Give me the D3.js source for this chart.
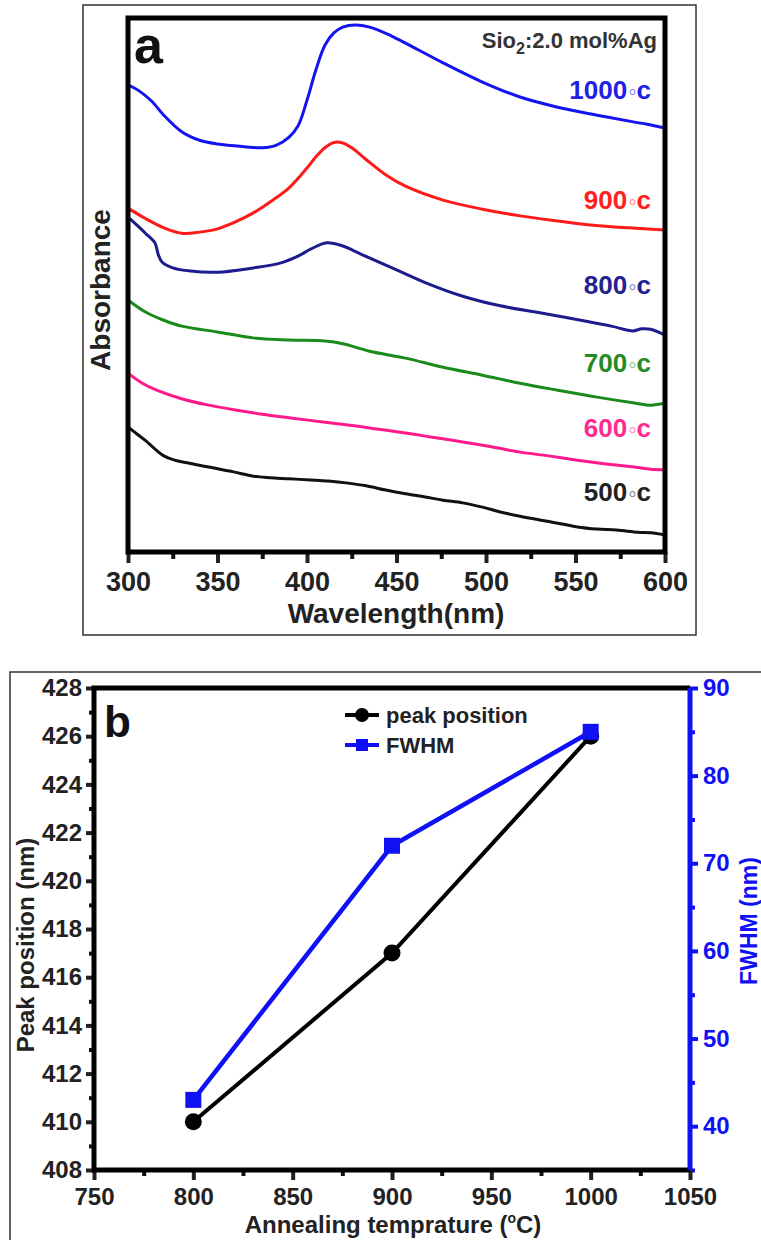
<!DOCTYPE html>
<html>
<head>
<meta charset="utf-8">
<script src="https://cdn.jsdelivr.net/npm/d3@7"></script>
<style>
body { margin: 0; background: #fff; }
svg { display: block; font-family: "Liberation Sans", Arial, sans-serif; font-weight: bold; }
</style>
</head>
<body>
<script>
// ---- panel a : absorbance spectra, pairs of [wavelength (nm), absorbance (a.u.)]
var abs1000 = [[300,0.875],[306,0.864],[313,0.845],[320,0.818],[330,0.787],[340,0.771],[350,0.764],[365,0.759],
  [375,0.757],[383,0.762],[390,0.777],[395,0.798],[400,0.846],[405,0.903],[410,0.949],[415,0.972],[420,0.983],
  [427,0.987],[435,0.983],[445,0.970],[455,0.953],[476,0.916],[498,0.880],[519,0.852],[540,0.833],[562,0.818],
  [583,0.805],[590,0.801],[600,0.794]];
var abs900 = [[300,0.644],[310,0.624],[320,0.607],[330,0.597],[340,0.599],[350,0.605],[360,0.618],[370,0.635],
  [380,0.657],[390,0.682],[400,0.719],[405,0.740],[410,0.757],[415,0.767],[420,0.766],[425,0.757],[433,0.735],
  [445,0.704],[455,0.685],[476,0.659],[498,0.642],[520,0.629],[540,0.620],[560,0.612],[580,0.607],[600,0.603]];
var abs800 = [[300,0.627],[305,0.612],[310,0.596],[315,0.579],[317,0.556],[319,0.543],[325,0.532],[335,0.526],
  [350,0.524],[370,0.532],[385,0.541],[395,0.554],[402,0.567],[411,0.579],[420,0.573],[430,0.558],[445,0.536],
  [465,0.506],[487,0.479],[508,0.461],[530,0.448],[550,0.436],[570,0.423],[582,0.414],[587,0.418],[592,0.417],
  [600,0.406]];
var abs700 = [[300,0.472],[310,0.449],[320,0.434],[330,0.423],[350,0.412],[370,0.401],[390,0.397],[410,0.395],
  [420,0.390],[435,0.376],[455,0.363],[476,0.346],[498,0.331],[519,0.316],[540,0.303],[562,0.290],[583,0.279],
  [592,0.275],[600,0.279]];
var abs600 = [[300,0.335],[308,0.316],[316,0.303],[329,0.288],[345,0.275],[360,0.266],[375,0.258],[391,0.251],
  [410,0.243],[423,0.238],[440,0.230],[455,0.223],[470,0.215],[487,0.206],[503,0.197],[519,0.187],[535,0.180],
  [551,0.172],[567,0.165],[583,0.159],[592,0.155],[600,0.154]];
var abs500 = [[300,0.234],[305,0.221],[310,0.208],[315,0.193],[320,0.180],[326,0.172],[333,0.167],[345,0.159],
  [359,0.150],[370,0.142],[380,0.139],[390,0.137],[402,0.135],[412,0.133],[423,0.129],[433,0.124],[444,0.116],
  [455,0.109],[466,0.103],[476,0.097],[487,0.092],[498,0.084],[508,0.075],[519,0.067],[530,0.060],[540,0.054],
  [551,0.047],[562,0.043],[573,0.041],[585,0.037],[592,0.036],[600,0.032]];
var tempNames = ['1000', '900', '800', '700', '600', '500'];
var wavelengthTicks = [300, 350, 400, 450, 500, 550, 600];

// ---- panel b : peak position and FWHM vs annealing temperature
var annealTemps = [800, 900, 1000];
var peakPosition = [410, 417, 426];
var fwhm = [43, 72, 85];
var tempTicks = [750, 800, 850, 900, 950, 1000, 1050];
var peakTicks = [408, 410, 412, 414, 416, 418, 420, 422, 424, 426, 428];
var fwhmTicks = [40, 50, 60, 70, 80, 90];

var seriesA = [abs1000, abs900, abs800, abs700, abs600, abs500];
var colorsA = ['#1414f0', '#ff1a1a', '#1c1c8e', '#1a8a1a', '#ff1a8c', '#111111'];
var labelColorsA = ['#2020e6', '#ff2020', '#222290', '#238b23', '#ff2a90', '#222222'];
var labelY = [99, 209, 294, 372, 437, 501];

var svg = d3.select('body').append('svg')
  .attr('width', 761)
  .attr('height', 1240);

// outer frames
svg.append('rect').attr('x', 83).attr('y', 5).attr('width', 613).attr('height', 630)
  .attr('fill', 'none').attr('stroke', '#333').attr('stroke-width', 1.5);
svg.append('rect').attr('x', 10).attr('y', 672).attr('width', 770).attr('height', 600)
  .attr('fill', 'none').attr('stroke', '#333').attr('stroke-width', 1.5);

// ================= panel a =================
var xA = d3.scaleLinear().domain([300, 600]).range([128, 665]);
var yA = d3.scaleLinear().domain([0, 1]).range([552, 18]);

function styleAxis(g, size, color) {
  g.attr('font-family', null).attr('font-size', null);
  g.select('.domain').remove();
  g.selectAll('.tick line').attr('stroke', color).attr('stroke-width', 4);
  g.selectAll('.tick text').attr('fill', color).style('font-size', size + 'px');
}

svg.append('g')
  .attr('transform', 'translate(0,552)')
  .call(d3.axisBottom(xA).tickValues(d3.range(325, 600, 50)).tickSize(7).tickFormat(''))
  .call(styleAxis, 27, '#111');
svg.append('g')
  .attr('transform', 'translate(0,552)')
  .call(d3.axisBottom(xA).tickValues(wavelengthTicks).tickSize(11).tickPadding(9).tickFormat(d3.format('d')))
  .call(styleAxis, 27, '#222');

var lineA = d3.line()
  .x(function (d) { return xA(d[0]); })
  .y(function (d) { return yA(d[1]); })
  .curve(d3.curveCatmullRom.alpha(0.5));

svg.selectAll('.spectrum')
  .data(seriesA)
  .enter().append('path')
  .attr('class', 'spectrum')
  .attr('d', lineA)
  .attr('fill', 'none')
  .attr('stroke', function (d, i) { return colorsA[i]; })
  .attr('stroke-width', 3);

svg.append('rect').attr('x', xA(300)).attr('y', yA(1))
  .attr('width', xA(600) - xA(300)).attr('height', yA(0) - yA(1))
  .attr('fill', 'none').attr('stroke', '#000').attr('stroke-width', 5);

// temperature labels
var tl = svg.selectAll('.tlabel')
  .data(tempNames)
  .enter().append('text')
  .attr('class', 'tlabel')
  .attr('x', 651)
  .attr('y', function (d, i) { return labelY[i]; })
  .attr('text-anchor', 'end')
  .style('font-size', '26px')
  .attr('fill', function (d, i) { return labelColorsA[i]; });
tl.append('tspan').text(function (d) { return d; });
tl.append('tspan').text('\u00B0')
  .style('font-weight', 'normal').style('font-size', '21px')
  .attr('fill-opacity', 0.55).attr('dx', 1).attr('dy', 5);
tl.append('tspan').text('c').attr('dy', -5);

svg.append('text').attr('x', 134).attr('y', 63).style('font-size', '52px').attr('fill', '#111').text('a');

var comp = svg.append('text').attr('x', 657).attr('y', 48).attr('text-anchor', 'end')
  .style('font-size', '22px').attr('fill', '#333');
comp.append('tspan').text('Sio');
comp.append('tspan').text('2').style('font-size', '16px').attr('dy', 6);
comp.append('tspan').text(':2.0 mol%Ag').attr('dy', -6);

svg.append('text').attr('x', 396).attr('y', 623).attr('text-anchor', 'middle')
  .style('font-size', '28px').attr('fill', '#222').text('Wavelength(nm)');
svg.append('text').attr('transform', 'translate(110,290) rotate(-90)').attr('text-anchor', 'middle')
  .style('font-size', '28px').attr('fill', '#222').text('Absorbance');

// ================= panel b =================
var xB = d3.scaleLinear().domain([750, 1050]).range([94, 690]);
var yB = d3.scaleLinear().domain([408, 428]).range([1170, 688]);
var yB2 = d3.scaleLinear().domain([35, 90]).range([1170, 688]);
var blue = '#1010f5';

// minor ticks
svg.append('g').attr('transform', 'translate(0,1170)')
  .call(d3.axisBottom(xB).tickValues(d3.range(775, 1050, 50)).tickSize(6).tickFormat(''))
  .call(styleAxis, 24, '#111');
svg.append('g').attr('transform', 'translate(94,0)')
  .call(d3.axisLeft(yB).tickValues(d3.range(409, 428, 2)).tickSize(5).tickFormat(''))
  .call(styleAxis, 24, '#111');
svg.append('g').attr('transform', 'translate(690,0)')
  .call(d3.axisRight(yB2).tickValues(d3.range(35, 90, 10)).tickSize(5).tickFormat(''))
  .call(styleAxis, 24, blue);

// major ticks
svg.append('g').attr('transform', 'translate(0,1170)')
  .call(d3.axisBottom(xB).tickValues(tempTicks).tickSize(10).tickPadding(8).tickFormat(d3.format('d')))
  .call(styleAxis, 24, '#222');
svg.append('g').attr('transform', 'translate(94,0)')
  .call(d3.axisLeft(yB).tickValues(peakTicks).tickSize(8).tickPadding(4).tickFormat(d3.format('d')))
  .call(styleAxis, 24, '#222');
svg.append('g').attr('transform', 'translate(690,0)')
  .call(d3.axisRight(yB2).tickValues(fwhmTicks).tickSize(8).tickPadding(5).tickFormat(d3.format('d')))
  .call(styleAxis, 24, blue);

// axis lines
svg.append('path')
  .attr('d', 'M' + xB(1050) + ',' + yB(428) + 'H' + xB(750) + 'V' + yB(408) + 'H' + xB(1050))
  .attr('fill', 'none').attr('stroke', '#000').attr('stroke-width', 5);
svg.append('line')
  .attr('x1', xB(1050)).attr('x2', xB(1050)).attr('y1', yB2(90)).attr('y2', yB2(35))
  .attr('stroke', blue).attr('stroke-width', 5);

var peakData = annealTemps.map(function (t, i) { return [t, peakPosition[i]]; });
var fwhmData = annealTemps.map(function (t, i) { return [t, fwhm[i]]; });

svg.append('path').datum(peakData)
  .attr('d', d3.line().x(function (d) { return xB(d[0]); }).y(function (d) { return yB(d[1]); }))
  .attr('fill', 'none').attr('stroke', '#000').attr('stroke-width', 4);
svg.selectAll('.pk').data(peakData).enter().append('circle')
  .attr('class', 'pk')
  .attr('cx', function (d) { return xB(d[0]); })
  .attr('cy', function (d) { return yB(d[1]); })
  .attr('r', 8.5).attr('fill', '#000');

svg.append('path').datum(fwhmData)
  .attr('d', d3.line().x(function (d) { return xB(d[0]); }).y(function (d) { return yB2(d[1]); }))
  .attr('fill', 'none').attr('stroke', blue).attr('stroke-width', 4.5);
svg.selectAll('.fw').data(fwhmData).enter().append('rect')
  .attr('class', 'fw')
  .attr('x', function (d) { return xB(d[0]) - 8; })
  .attr('y', function (d) { return yB2(d[1]) - 8; })
  .attr('width', 16).attr('height', 16).attr('fill', blue);

// legend
var lg = svg.append('g');
lg.append('line').attr('x1', 345).attr('x2', 379).attr('y1', 715).attr('y2', 715)
  .attr('stroke', '#000').attr('stroke-width', 4);
lg.append('circle').attr('cx', 362).attr('cy', 715).attr('r', 7).attr('fill', '#000');
lg.append('text').attr('x', 386).attr('y', 723).style('font-size', '22px').attr('fill', '#222').text('peak position');
lg.append('line').attr('x1', 345).attr('x2', 379).attr('y1', 745).attr('y2', 745)
  .attr('stroke', blue).attr('stroke-width', 4);
lg.append('rect').attr('x', 356).attr('y', 739).attr('width', 12).attr('height', 12).attr('fill', blue);
lg.append('text').attr('x', 386).attr('y', 753).style('font-size', '22px').attr('fill', '#222').text('FWHM');

svg.append('text').attr('x', 104).attr('y', 737).style('font-size', '44px').attr('fill', '#111').text('b');

svg.append('text').attr('transform', 'translate(34,945) rotate(-90)').attr('text-anchor', 'middle')
  .style('font-size', '24px').attr('fill', '#222').text('Peak position (nm)');
svg.append('text').attr('transform', 'translate(757,921) rotate(-90)').attr('text-anchor', 'middle')
  .style('font-size', '23px').attr('fill', blue).text('FWHM (nm)');

var xt = svg.append('text').attr('x', 393).attr('y', 1233).attr('text-anchor', 'middle')
  .style('font-size', '24px').attr('fill', '#222');
xt.append('tspan').text('Annealing temprature (');
xt.append('tspan').text('o').style('font-size', '14px').attr('dy', -10);
xt.append('tspan').text('C)').attr('dy', 10);
</script>
</body>
</html>
